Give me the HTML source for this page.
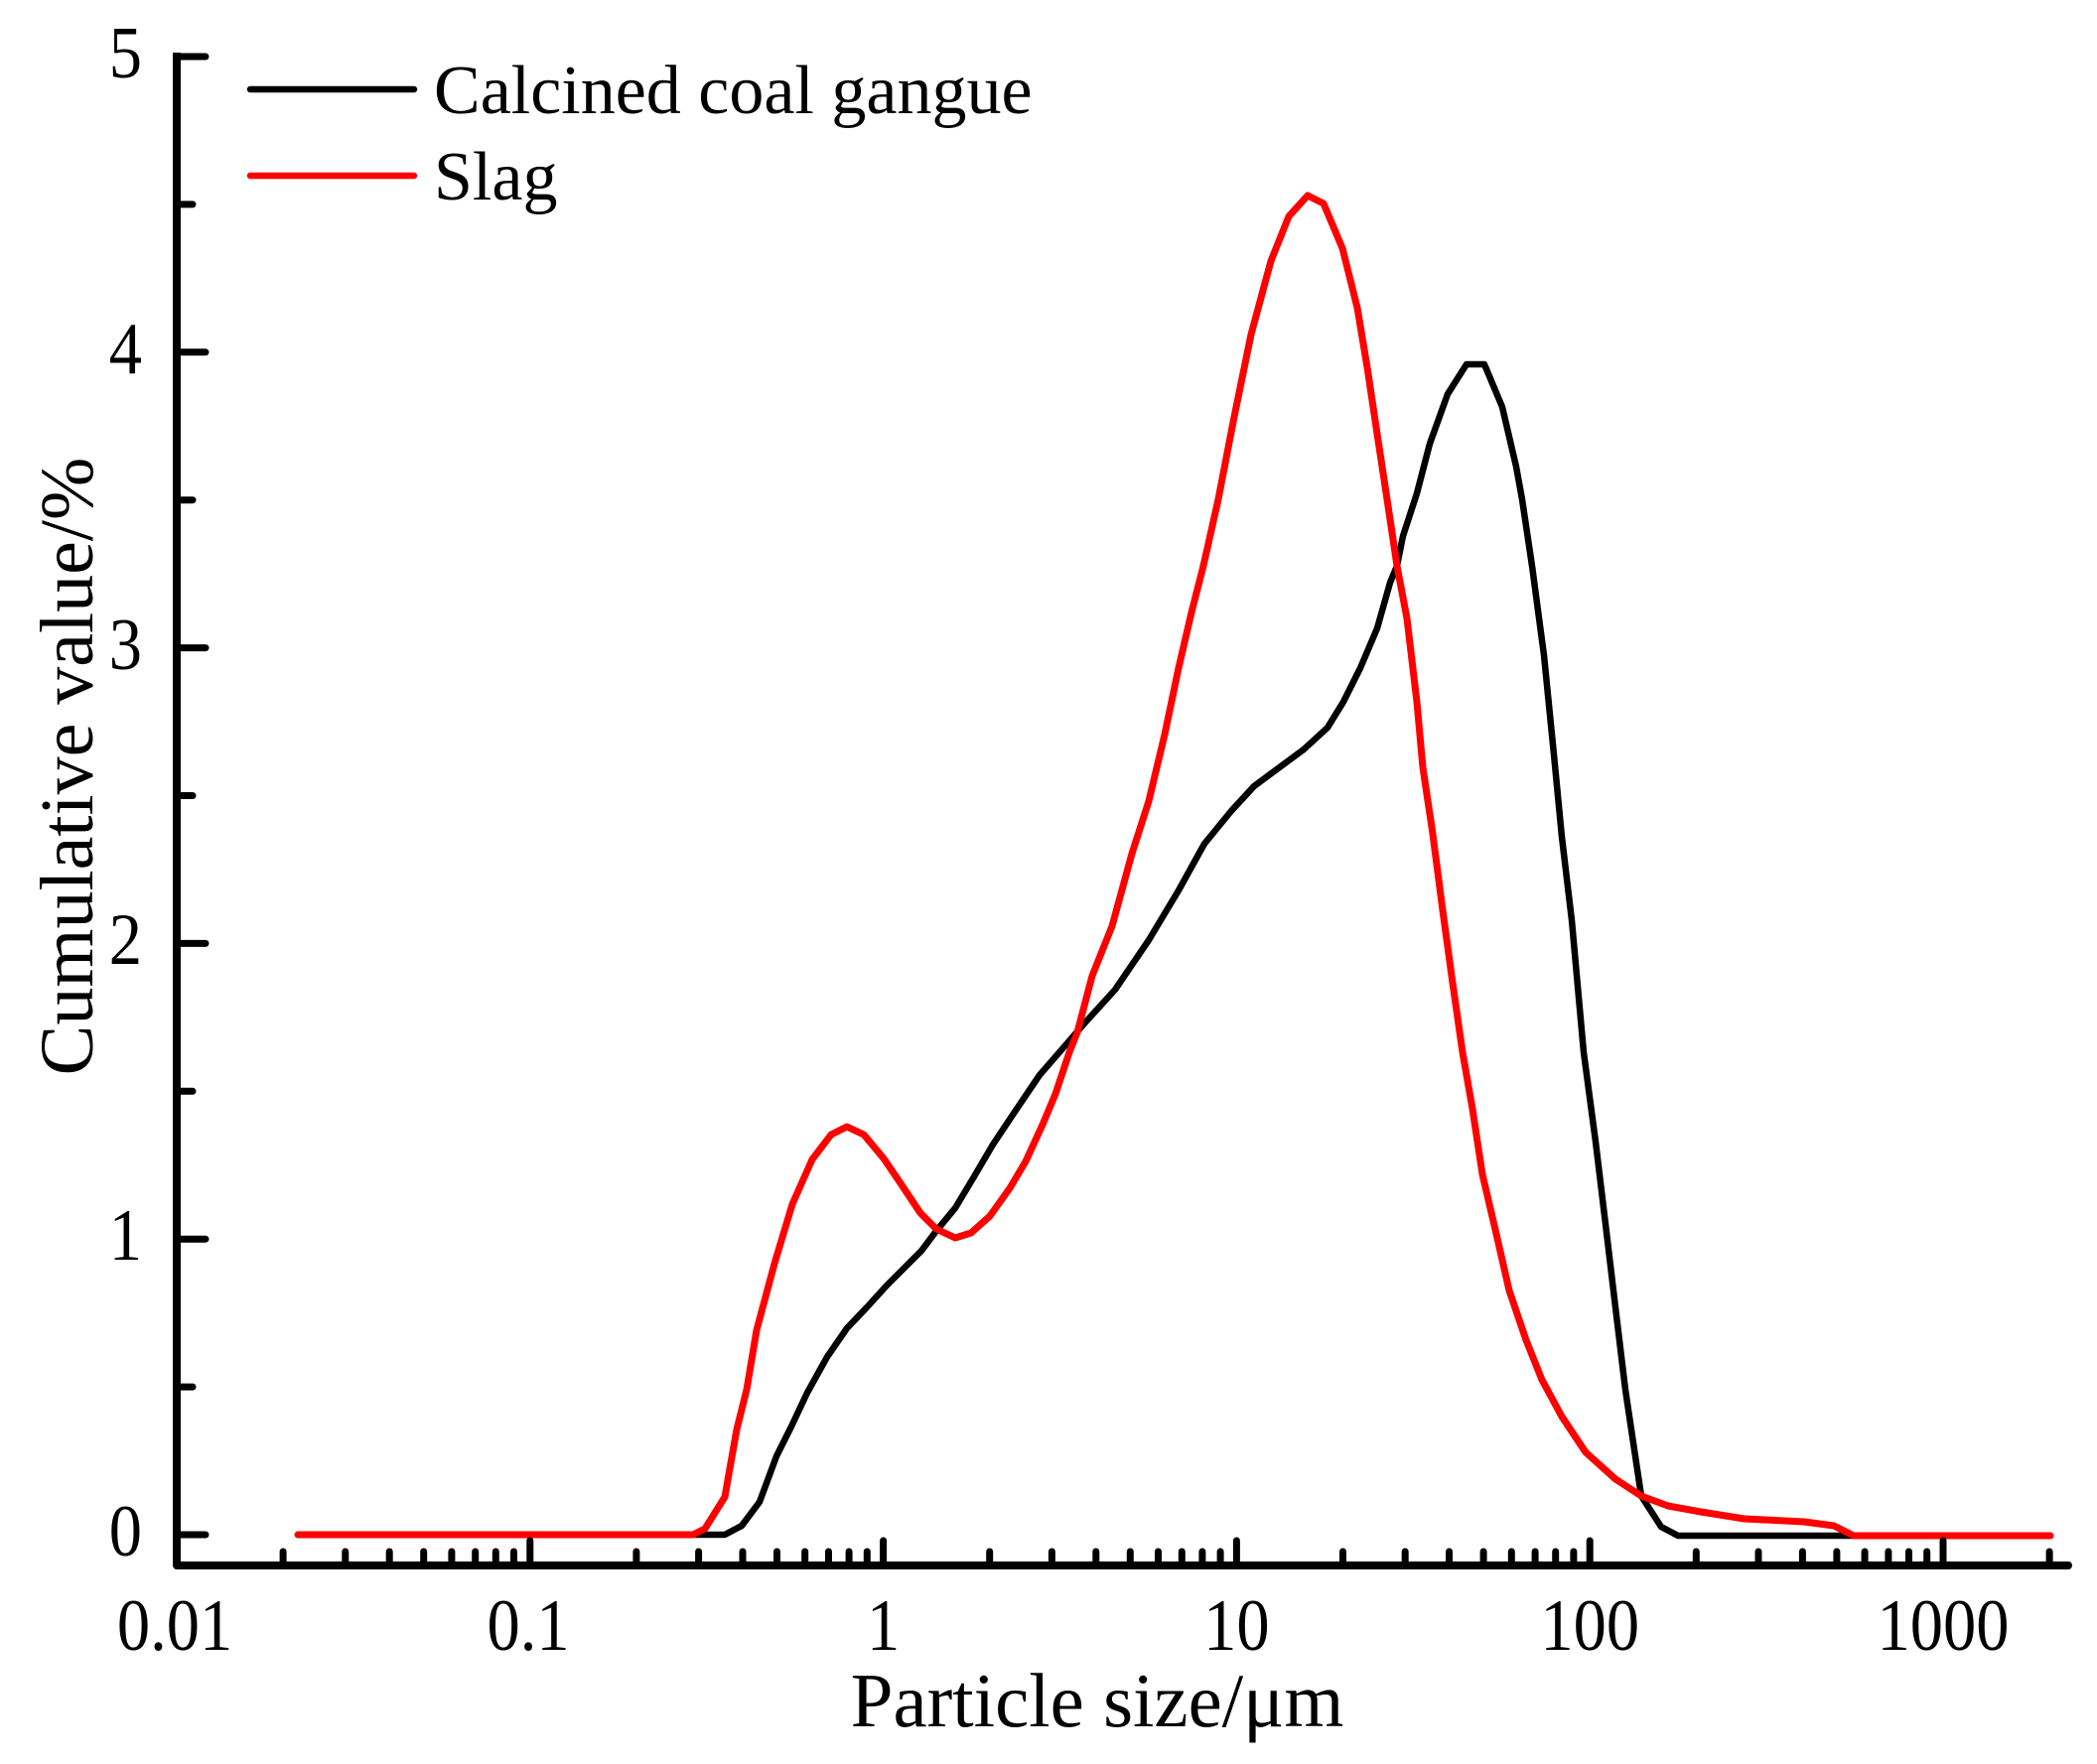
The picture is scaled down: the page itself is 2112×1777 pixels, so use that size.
<!DOCTYPE html>
<html>
<head>
<meta charset="utf-8">
<style>
  html, body { margin: 0; padding: 0; background: #ffffff; }
  svg { display: block; }
  text { font-family: "Liberation Serif", "Times New Roman", serif; fill: #000; }
</style>
</head>
<body>
<svg width="2112" height="1777" viewBox="0 0 2112 1777" xmlns="http://www.w3.org/2000/svg">
  <rect x="0" y="0" width="2112" height="1777" fill="#ffffff"/>

  <polyline fill="none" stroke="#000000" stroke-width="6.5" stroke-linejoin="round" stroke-linecap="round"
    points="300,1546 730,1546 747,1537 765,1513 782,1467 797,1437 813,1403 833,1367 853,1338 873,1317 893,1295 913,1275 928,1260 943,1240 962,1217 980,1187 1000,1153 1020,1123 1047,1083 1067,1060 1093,1030 1123,997 1157,947 1187,897 1213,850 1240,817 1263,792 1290,772 1313,755 1337,733 1353,707 1370,673 1387,633 1400,587 1407,570 1413,540 1427,497 1440,447 1458,397 1477,367 1495,367 1513,410 1527,470 1533,503 1543,570 1555,660 1565,760 1573,843 1583,927 1595,1060 1607,1150 1617,1233 1627,1317 1637,1400 1647,1467 1653,1507 1673,1538 1690,1547 1867,1547 2060,1547"/>

  <polyline fill="none" stroke="#ff0000" stroke-width="7" stroke-linejoin="round" stroke-linecap="round"
    points="300,1546 698,1546 710,1540 730,1508 742,1440 752,1400 762,1340 780,1273 798,1213 818,1168 837,1143 853,1135 870,1143 890,1167 907,1192 927,1222 943,1238 962,1247 978,1242 997,1225 1017,1197 1033,1170 1050,1133 1063,1102 1077,1060 1085,1040 1100,983 1120,933 1140,860 1157,807 1173,740 1187,673 1200,617 1212,570 1227,503 1243,420 1260,337 1280,263 1298,218 1317,197 1333,205 1352,250 1367,310 1377,370 1387,437 1397,503 1407,570 1417,623 1427,707 1433,773 1443,840 1453,917 1463,990 1473,1060 1483,1117 1493,1183 1507,1243 1520,1300 1537,1350 1553,1390 1573,1427 1597,1463 1627,1490 1653,1507 1680,1517 1713,1523 1757,1530 1817,1533 1847,1537 1867,1547 2065,1547"/>

  <path d="M178,53 V1577 H2083" fill="none" stroke="#000" stroke-width="8" stroke-linejoin="round"/>
  <circle cx="2083" cy="1577" r="4" fill="#000"/>

  <g stroke="#000" stroke-width="7" stroke-linecap="round">
    <line x1="178" y1="1546" x2="207" y2="1546"/>
    <line x1="178" y1="1248.2" x2="207" y2="1248.2"/>
    <line x1="178" y1="950.4" x2="207" y2="950.4"/>
    <line x1="178" y1="652.6" x2="207" y2="652.6"/>
    <line x1="178" y1="354.8" x2="207" y2="354.8"/>
    <line x1="178" y1="57" x2="207" y2="57"/>
    <line x1="178" y1="1397.1" x2="194" y2="1397.1"/>
    <line x1="178" y1="1099.3" x2="194" y2="1099.3"/>
    <line x1="178" y1="801.5" x2="194" y2="801.5"/>
    <line x1="178" y1="503.7" x2="194" y2="503.7"/>
    <line x1="178" y1="205.9" x2="194" y2="205.9"/>
  </g>

  <g stroke="#000" stroke-width="7" stroke-linecap="round">
    <line x1="533.8" y1="1577" x2="533.8" y2="1552"/>
    <line x1="889.6" y1="1577" x2="889.6" y2="1552"/>
    <line x1="1245.4" y1="1577" x2="1245.4" y2="1552"/>
    <line x1="1601.2" y1="1577" x2="1601.2" y2="1552"/>
    <line x1="1957" y1="1577" x2="1957" y2="1552"/>
  </g>

  <g stroke="#000" stroke-width="7" stroke-linecap="round">
    <line x1="285.1" y1="1577" x2="285.1" y2="1563"/>
    <line x1="347.8" y1="1577" x2="347.8" y2="1563"/>
    <line x1="392.2" y1="1577" x2="392.2" y2="1563"/>
    <line x1="426.7" y1="1577" x2="426.7" y2="1563"/>
    <line x1="454.9" y1="1577" x2="454.9" y2="1563"/>
    <line x1="478.7" y1="1577" x2="478.7" y2="1563"/>
    <line x1="499.3" y1="1577" x2="499.3" y2="1563"/>
    <line x1="517.5" y1="1577" x2="517.5" y2="1563"/>
    <line x1="640.9" y1="1577" x2="640.9" y2="1563"/>
    <line x1="703.6" y1="1577" x2="703.6" y2="1563"/>
    <line x1="748.0" y1="1577" x2="748.0" y2="1563"/>
    <line x1="782.5" y1="1577" x2="782.5" y2="1563"/>
    <line x1="810.7" y1="1577" x2="810.7" y2="1563"/>
    <line x1="834.5" y1="1577" x2="834.5" y2="1563"/>
    <line x1="855.1" y1="1577" x2="855.1" y2="1563"/>
    <line x1="873.3" y1="1577" x2="873.3" y2="1563"/>
    <line x1="996.7" y1="1577" x2="996.7" y2="1563"/>
    <line x1="1059.4" y1="1577" x2="1059.4" y2="1563"/>
    <line x1="1103.8" y1="1577" x2="1103.8" y2="1563"/>
    <line x1="1138.3" y1="1577" x2="1138.3" y2="1563"/>
    <line x1="1166.5" y1="1577" x2="1166.5" y2="1563"/>
    <line x1="1190.3" y1="1577" x2="1190.3" y2="1563"/>
    <line x1="1210.9" y1="1577" x2="1210.9" y2="1563"/>
    <line x1="1229.1" y1="1577" x2="1229.1" y2="1563"/>
    <line x1="1352.5" y1="1577" x2="1352.5" y2="1563"/>
    <line x1="1415.2" y1="1577" x2="1415.2" y2="1563"/>
    <line x1="1459.6" y1="1577" x2="1459.6" y2="1563"/>
    <line x1="1494.1" y1="1577" x2="1494.1" y2="1563"/>
    <line x1="1522.3" y1="1577" x2="1522.3" y2="1563"/>
    <line x1="1546.1" y1="1577" x2="1546.1" y2="1563"/>
    <line x1="1566.7" y1="1577" x2="1566.7" y2="1563"/>
    <line x1="1584.9" y1="1577" x2="1584.9" y2="1563"/>
    <line x1="1708.3" y1="1577" x2="1708.3" y2="1563"/>
    <line x1="1771.0" y1="1577" x2="1771.0" y2="1563"/>
    <line x1="1815.4" y1="1577" x2="1815.4" y2="1563"/>
    <line x1="1849.9" y1="1577" x2="1849.9" y2="1563"/>
    <line x1="1878.1" y1="1577" x2="1878.1" y2="1563"/>
    <line x1="1901.9" y1="1577" x2="1901.9" y2="1563"/>
    <line x1="1922.5" y1="1577" x2="1922.5" y2="1563"/>
    <line x1="1940.7" y1="1577" x2="1940.7" y2="1563"/>
    <line x1="2064.1" y1="1577" x2="2064.1" y2="1563"/>
  </g>

  <g font-size="70" text-anchor="end">
    <text transform="translate(143,1567) scale(0.95,1.06)">0</text>
    <text transform="translate(143,1269) scale(0.95,1.06)">1</text>
    <text transform="translate(143,971) scale(0.95,1.06)">2</text>
    <text transform="translate(143,674) scale(0.95,1.06)">3</text>
    <text transform="translate(143,376) scale(0.95,1.06)">4</text>
    <text transform="translate(143,78) scale(0.95,1.06)">5</text>
  </g>

  <g font-size="70" text-anchor="middle">
    <text transform="translate(176,1662) scale(0.95,1.06)">0.01</text>
    <text transform="translate(532,1662) scale(0.95,1.06)">0.1</text>
    <text transform="translate(889.6,1662) scale(0.95,1.06)">1</text>
    <text transform="translate(1245.4,1662) scale(0.95,1.06)">10</text>
    <text transform="translate(1601.2,1662) scale(0.95,1.06)">100</text>
    <text transform="translate(1957,1662) scale(0.95,1.06)">1000</text>
  </g>

  <text x="1105" y="1739" font-size="77" text-anchor="middle">Particle size/μm</text>
  <text x="0" y="0" font-size="76" text-anchor="middle" transform="translate(93,772) rotate(-90)">Cumulative value/%</text>

  <line x1="252" y1="90" x2="417" y2="90" stroke="#000" stroke-width="6.5" stroke-linecap="round"/>
  <text x="437" y="114" font-size="70">Calcined coal gangue</text>
  <line x1="252" y1="177" x2="417" y2="177" stroke="#ff0000" stroke-width="6.5" stroke-linecap="round"/>
  <text x="437" y="201" font-size="70">Slag</text>
</svg>
</body>
</html>
